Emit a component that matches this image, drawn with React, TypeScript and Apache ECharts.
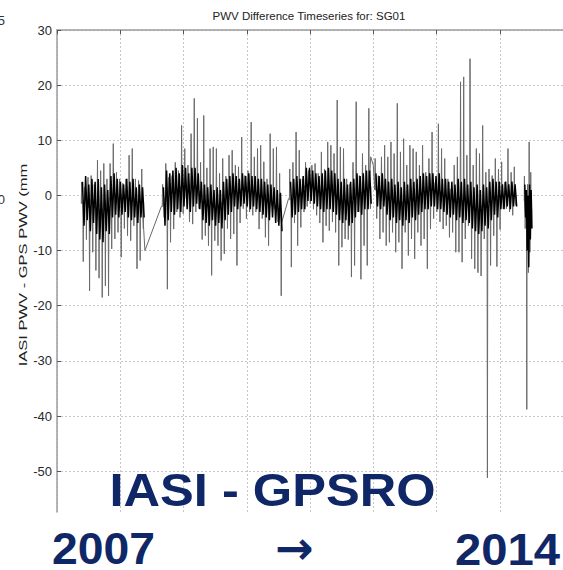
import React, { useEffect, useRef } from "react";
import * as echarts from "echarts";

// ---- Axis setup (decimal years / mm) ----
const X_MIN = 2007;
const X_MAX = 2015;
const Y_MIN = -57.4;
const Y_MAX = 30;

// ---- Segment timing (decimal year of first sample, sample step in years) ----
const segStart = [2007.39, 2008.67, 2010.68, 2012.03, 2014.39];
const segStep = [0.05, 0.05, 0.05, 0.05, 0.025];
// points that join one segment to the next (straight connecting lines across data gaps)
const segLead: (number[] | null)[] = [null, [2008.65, -2], [2010.66, -0.6], [2012.0, 5.5], null];
const segTail: (number[] | null)[] = [[2008.39, -10], [2010.55, -5], [2011.96, 7], null, null];
const segBreakBefore = [false, false, false, false, true];

// ---- Spike extremes per sample (mm) ----
const s1Hi = [2.4, 1.5, 3.3, 3.6, 2, 6.4, 4.5, 5.8, 3, 5.8, 9.4, 4.2, 3, 2.2, 3, 7.3, 8.5, 3, 2.7, 4.8];
const s1Lo = [-12, -8, -17.3, -10.3, -13.6, -15, -18.5, -16.4, -18.2, -9.7, -7.9, -6.7, -11.2, -6, -7.3, -8.2, -5.5, -13.3, -11.8, -6];
const s2Hi = [2, 5.8, 3.3, 3.6, 6, 4.5, 12.7, 8.5, 5.5, 11.2, 17.6, 14, 6, 14.5, 5, 8.5, 8.8, 8.5, 4, 6.7, 3.5, 7.3, 8.2, 5.5, 5.2, 10.6, 3.6, 4.5, 13.3, 7, 8.5, 9.1, 6.1, 3, 11.2, 8.5, 8.8, 4];
const s2Lo = [-4, -17, -8.5, -6.1, -3, -4, -3.3, -0.6, -4.8, -5.2, -3, -2.4, -8, -7.3, -9.1, -14.5, -8.2, -9.1, -11.8, -10.6, -6, -7.9, -7, -12.7, -5, -2.4, -4.2, -3, -3.6, -3, -6.1, -4.2, -7.6, -9.1, -1.8, -2.4, -4.8, -18.2];
const s3Hi = [4.8, 6, 11.5, 8.2, 3, 6, 4.5, 5.5, 5.8, 4, 7.9, 4.8, 9.7, 9.1, 7.6, 17.3, 8.8, 8.5, 3, 2.1, 6, 17, 3.6, 7.6, 5.5, 15.8];
const s3Lo = [-13, -5, -9.1, -5.8, -3, -2, -1.5, -2.5, -3.6, -5, -8.5, -5.5, -6.4, -4.8, -6.7, -12.7, -9.4, -7.9, -8, -14.8, -12.7, -3, -15.2, -9.1, -12.7, -2.4];
const s4Hi = [6.7, 3.6, 7, 9.1, 7, 9.7, 7.6, 16.7, 7.9, 10.3, 5.5, 9.1, 8.5, 7.9, 5.5, 9.1, 4.2, 6.7, 11.5, 2.4, 13, 8.5, 6.7, 3, 1.2, 5.5, 7, 20.6, 21.5, 7.3, 24.8, 5.5, 8.5, 7.6, 12.7, 4.2, 4.8, 3.6, 6.7, 4.8, 6.1, 2.4, 8.5, 4.2, 5.2];
const s4Lo = [-4.2, -7.9, -6.7, -9.1, -8.5, -6.7, -10.3, -8.5, -13.3, -6.7, -10.9, -7.9, -11.5, -6.7, -9.1, -7.9, -13.3, -6.1, -4.2, -3, -4.8, -6.1, -5.5, -7.6, -6.7, -10.3, -10.3, -12.1, -7.9, -5.5, -11.5, -13.3, -14, -14.6, -7.9, -51.2, -12.7, -7.3, -12.9, -6.2, -2.4, -2.4, -3, -3.6, -1.8];
const s5Hi = [3.5, 1, 2, 9.7, 4.2];
const s5Lo = [-6, -38.8, -14, -10.3, -5.5];

// ---- Dense core band per sample (mm) ----
const s1CoreHi = [2.5, 3.5, 2, 3, 2.5, 3, 1.5, 2, 1, 3.5, 4, 3, 2.5, 2, 3, 2.5, 3, 1.5, 2, 1.5];
const s1CoreLo = [-5.5, -4.5, -6.5, -5, -7, -8, -8.5, -6.5, -7, -4, -3.5, -4, -3.5, -3, -4, -4.5, -4, -5, -4, -4];
const s2CoreHi = [1.5, 4.5, 4, 4.5, 5, 4, 5.5, 5, 4, 5, 5, 4, 2.5, 2, 1.5, 2, 1, 1.5, 1, 2.5, 3, 3.5, 4, 3.5, 3, 4, 3.5, 4, 3.5, 3.5, 3, 3, 2.5, 2, 2, 1.5, 1, 0.5];
const s2CoreLo = [-5.5, -4.5, -3, -3.5, -2.5, -3, -2, -2.5, -3, -2, -1.5, -2.5, -4.5, -5, -5.5, -4.5, -5.5, -5, -6, -4.5, -3.5, -3, -2, -2.5, -2, -1.5, -2, -2.5, -2, -2.5, -3, -3.5, -4, -4.5, -4, -5, -5.5, -6.5];
const s3CoreHi = [2.5, 3, 3.5, 3, 3.5, 5, 5, 4.5, 4, 3.5, 4, 4.5, 5, 4.5, 4, 3, 2.5, 3, 2, 2.5, 3, 4, 3.5, 4, 4.5, 4.5];
const s3CoreLo = [-4, -3.5, -3, -2.5, -2.5, -1, -1, -1.5, -2, -2.5, -3, -2.5, -2.5, -3, -3.5, -4.5, -5, -4.5, -5.5, -5, -4, -3, -3.5, -2.5, -2.5, -1.5];
const s4CoreHi = [4, 3.5, 4, 3, 2.5, 3, 2, 2.5, 1.5, 2.5, 2, 3, 2.5, 3, 3.5, 4, 3.5, 4, 4, 3.5, 4, 3, 3, 2.5, 2.5, 2, 3, 2.5, 3, 2, 2.5, 1.5, 2, 1, 2, 1.5, 2.5, 3, 2.5, 2.5, 2, 2.5, 2, 2.5, 2];
const s4CoreLo = [-2, -2.5, -2, -3.5, -4.5, -4, -5, -4.5, -5.5, -4.5, -5, -4, -4.5, -3.5, -3, -2.5, -2.5, -2, -2, -2.5, -2.5, -3, -3.5, -4, -3.5, -4.5, -4, -5, -4.5, -5, -6, -6.5, -7, -6.5, -5.5, -6, -4.5, -3.5, -4, -2.5, -2.5, -2, -2.5, -2, -2];
const s5CoreHi = [2, 1, 0, 2, 1];
const s5CoreLo = [-4, -10, -13, -8, -6];

const segHi = [s1Hi, s2Hi, s3Hi, s4Hi, s5Hi];
const segLo = [s1Lo, s2Lo, s3Lo, s4Lo, s5Lo];
const segCoreHi = [s1CoreHi, s2CoreHi, s3CoreHi, s4CoreHi, s5CoreHi];
const segCoreLo = [s1CoreLo, s2CoreLo, s3CoreLo, s4CoreLo, s5CoreLo];

// ---- Texts ----
const TITLE = "PWV Difference Timeseries for: SG01";
const Y_NAME = "IASI PWV - GPS PWV (mm";
const BIG_LABEL = "IASI - GPSRO";
const YEAR_FROM = "2007";
const YEAR_TO = "2014";
const ARROW = "\u2192";

const NAVY = "#0f2766";

// upward needles (plus the straight connecting lines across gaps)
function buildUp() {
  const out: any[] = [];
  for (let k = 0; k < segHi.length; k++) {
    const st = segStart[k];
    const step = segStep[k];
    const w = step * 0.12;
    if (segBreakBefore[k]) out.push([st - step, "-"]);
    if (segLead[k]) out.push(segLead[k]);
    for (let i = 0; i < segHi[k].length; i++) {
      const t = st + i * step;
      const c = (segCoreHi[k][i] + segCoreLo[k][i]) / 2;
      out.push([t - w, c]);
      out.push([t, segHi[k][i]]);
      out.push([t + w, c]);
    }
    if (segTail[k]) out.push(segTail[k]);
  }
  return out;
}

// downward needles
function buildDown() {
  const out: any[] = [];
  for (let k = 0; k < segLo.length; k++) {
    const st = segStart[k];
    const step = segStep[k];
    const w = step * 0.12;
    if (k > 0) out.push([st - step, "-"]);
    for (let i = 0; i < segLo[k].length; i++) {
      const t = st + i * step + step / 2;
      const c = (segCoreHi[k][i] + segCoreLo[k][i]) / 2;
      out.push([t - w, c]);
      out.push([t, segLo[k][i]]);
      out.push([t + w, c]);
    }
  }
  return out;
}

function buildCore() {
  const out: any[] = [];
  for (let k = 0; k < segCoreHi.length; k++) {
    const st = segStart[k];
    const step = segStep[k];
    if (k > 0) out.push([st - step, "-"]);
    for (let i = 0; i < segCoreHi[k].length; i++) {
      out.push([st + i * step + step * 0.25, segCoreHi[k][i]]);
      out.push([st + i * step + step * 0.75, segCoreLo[k][i]]);
    }
  }
  return out;
}

export default function App() {
  const ref = useRef<HTMLDivElement>(null);

  useEffect(() => {
    if (!ref.current) return;
    const chart = echarts.init(ref.current, null, { renderer: "svg" });
    const grid = "#c6c6c6";
    const axisCol = "#9c9c9c";
    const spikeStyle = { color: "#6a6a6a", width: 1 };
    const bigText = (text: string, x: number, y: number, size: number, sx: number, family = "Liberation Sans") => ({
      type: "text",
      x,
      y,
      scaleX: sx,
      z: 100,
      style: {
        text,
        fontSize: size,
        lineHeight: 38,
        fontWeight: "bold",
        fontFamily: family,
        fill: NAVY,
        textAlign: "center",
        textVerticalAlign: "middle",
      },
    });
    chart.setOption({
      animation: false,
      backgroundColor: "#ffffff",
      grid: { left: 57, top: 30, width: 508, height: 482, containLabel: false },
      xAxis: [
        {
          type: "value",
          min: X_MIN,
          max: X_MAX,
          interval: 1,
          position: "bottom",
          axisLine: { show: false },
          axisTick: { show: false },
          axisLabel: { show: false },
          splitLine: { show: true, lineStyle: { color: grid, type: [2, 2], width: 1 } },
        },
        {
          type: "value",
          min: X_MIN,
          max: X_MAX,
          interval: 1,
          position: "top",
          axisLine: { show: true, onZero: false, lineStyle: { color: axisCol, width: 1.5 } },
          axisTick: { show: true, inside: true, length: 4, lineStyle: { color: "#555" } },
          axisLabel: { show: false },
          splitLine: { show: false },
        },
      ],
      yAxis: {
        type: "value",
        min: Y_MIN,
        max: Y_MAX,
        splitNumber: 9,
        axisLine: { show: true, onZero: false, lineStyle: { color: axisCol, width: 1.5 } },
        axisTick: { show: true, inside: true, length: 4, lineStyle: { color: "#555" } },
        axisLabel: {
          color: "#2a2a2a",
          fontSize: 13,
          fontFamily: "Liberation Sans",
          margin: 5,
          showMinLabel: false,
        },
        splitLine: { show: true, showMinLine: false, lineStyle: { color: grid, type: [2, 2], width: 1 } },
      },
      series: [
        {
          type: "line",
          xAxisIndex: 0,
          data: buildUp(),
          symbol: "none",
          connectNulls: false,
          silent: true,
          z: 2,
          lineStyle: spikeStyle,
        },
        {
          type: "line",
          xAxisIndex: 0,
          data: buildDown(),
          symbol: "none",
          connectNulls: false,
          silent: true,
          z: 2,
          lineStyle: spikeStyle,
        },
        {
          type: "line",
          xAxisIndex: 0,
          data: buildCore(),
          symbol: "none",
          connectNulls: false,
          silent: true,
          z: 3,
          lineStyle: { color: "#000000", width: 1.5 },
        },
      ],
      graphic: [
        {
          type: "text",
          x: 309,
          y: 16,
          style: {
            text: TITLE,
            fontSize: 11.5,
            fontFamily: "Liberation Sans",
            fill: "#222",
            textAlign: "center",
            textVerticalAlign: "middle",
          },
        },
        {
          type: "text",
          x: 23.5,
          y: 265,
          rotation: Math.PI / 2,
          scaleX: 1.5,
          style: {
            text: Y_NAME,
            fontSize: 11,
            fontFamily: "Liberation Sans",
            fill: "#222",
            textAlign: "center",
            textVerticalAlign: "middle",
          },
        },
        {
          type: "text",
          x: 5,
          y: 20,
          style: { text: "5", fontSize: 13, fontFamily: "Liberation Sans", fill: "#333", textAlign: "right", textVerticalAlign: "middle" },
        },
        {
          type: "text",
          x: 5,
          y: 199,
          style: { text: "0", fontSize: 13, fontFamily: "Liberation Sans", fill: "#333", textAlign: "right", textVerticalAlign: "middle" },
        },
        bigText(BIG_LABEL, 272.5, 490, 46, 1.1),
        bigText(YEAR_FROM, 103.5, 549, 45, 1.03),
        bigText(ARROW, 294.5, 548, 46, 1, "DejaVu Sans"),
        bigText(YEAR_TO, 507.5, 549, 45, 1.05),
      ],
    });
    return () => chart.dispose();
  }, []);

  return (
    <div
      ref={ref}
      style={{ position: "fixed", left: 0, top: 0, width: 563, height: 570, background: "#ffffff" }}
    />
  );
}
